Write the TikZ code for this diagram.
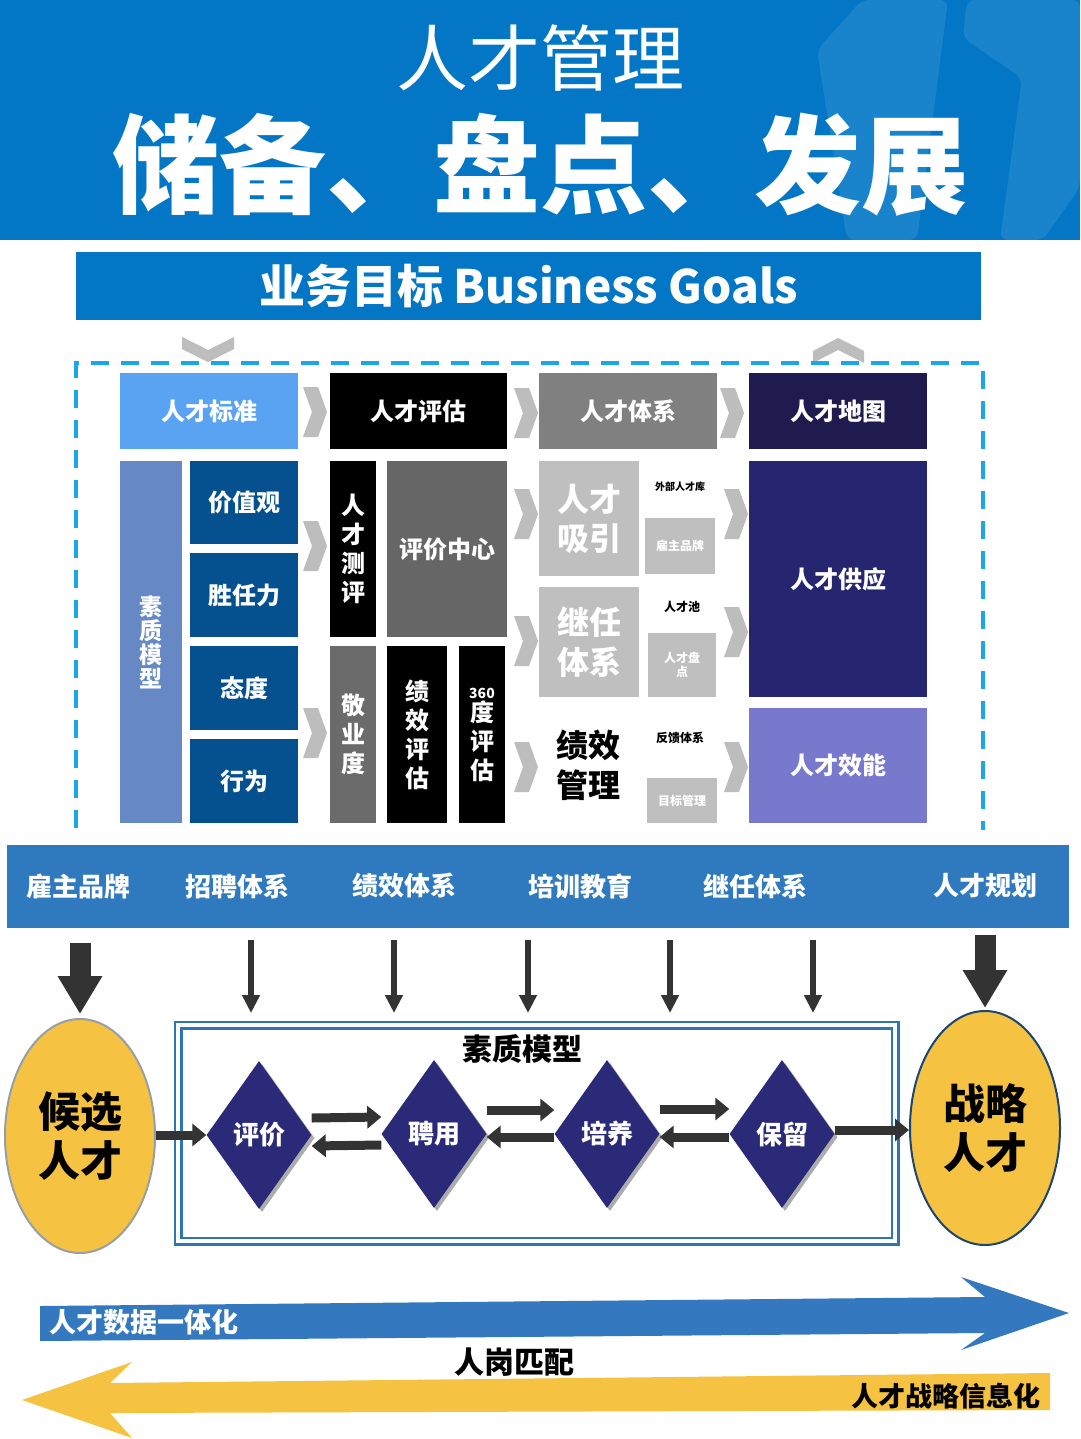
\documentclass[tikz,border=0pt]{standalone}
\usepackage{fontspec}
\setmainfont{Noto Sans CJK SC}
\usetikzlibrary{shapes.geometric,arrows.meta,shadows,calc}
\definecolor{hblue}{HTML}{0377C6}
\definecolor{lblue}{HTML}{5AA2F2}
\definecolor{dblue}{HTML}{05508F}
\definecolor{smx}{HTML}{6688C4}
\definecolor{gmid}{HTML}{666666}
\definecolor{gdark}{HTML}{6B6B6B}
\definecolor{gsys}{HTML}{808080}
\definecolor{glight}{HTML}{BFBFBF}
\definecolor{chevc}{HTML}{BDBDBD}
\definecolor{navyA}{HTML}{1F1B4F}
\definecolor{navyB}{HTML}{26256F}
\definecolor{lav}{HTML}{7878CC}
\definecolor{bandc}{HTML}{2F79BF}
\definecolor{dashc}{HTML}{1BA6E8}
\definecolor{arkc}{HTML}{333333}
\definecolor{gold}{HTML}{F5C242}
\definecolor{diac}{HTML}{2A2A78}
\definecolor{frm}{HTML}{2E75B6}
\definecolor{arrb}{HTML}{3478C0}
\tikzset{
  box/.style={inner sep=0pt, outer sep=0pt, text=white, align=center,
    font=\bfseries\fontsize{24}{29}\selectfont},
  sbox/.style={box, font=\bfseries\fontsize{12}{14}\selectfont},
  note/.style={inner sep=0pt, text=black, align=center, font=\bfseries\fontsize{12}{14}\selectfont},
  bandlbl/.style={inner sep=0pt, text=white, font=\bfseries\fontsize{26}{30}\selectfont},
  dmd/.style={diamond, fill=diac, minimum width=105pt, minimum height=148pt, inner sep=0pt,
    text=white, font=\bfseries\fontsize{26}{30}\selectfont,
    general shadow={fill=gray!65, shadow xshift=3pt, shadow yshift=-3pt}},
  ell/.style={ellipse, fill=gold, minimum width=150pt, minimum height=234pt, inner sep=0pt,
    align=center, font=\bfseries\fontsize{42}{49}\selectfont, line width=2pt},
  fat/.style={draw=arkc, line width=9pt, -{Triangle[length=14pt,width=22pt]}},
  thinarr/.style={draw=arkc, line width=6pt, -{Triangle[length=18pt,width=17pt]}},
  bigarr/.style={draw=arkc, line width=21pt, -{Triangle[length=38pt,width=42pt]}},
  chevpic/.pic={\fill[chevc] (0,0) -- (15,0) -- (24,25) -- (15,50) -- (0,50) -- (9,25) -- cycle;}
}
\begin{document}
\begin{tikzpicture}[x=1pt,y=-1pt]
\useasboundingbox (0,0) rectangle (1080,1439);
\fill[white] (0,0) rectangle (1080,1439);
% header
\fill[hblue] (0,0) rectangle (1080,240);
\fill[white, opacity=0.09, rounded corners=8pt] (862,0) -- (948,0) -- (917,240) -- (847,240) -- (817,50) -- cycle;
\fill[white, opacity=0.09, rounded corners=8pt] (967,0) -- (1080,0) -- (1080,187) -- (1043,240) -- (1000,240) -- (1022,78) -- (963,38) -- cycle;
\node[inner sep=0pt, text=white, font=\fontsize{72}{80}\selectfont] (title1) at (540,58) {人才管理};
\node[inner sep=0pt, text=white, font=\bfseries\fontsize{107}{110}\selectfont] (title2) at (540,165) {储备、盘点、发展};
% business goals
\node[fill=hblue, minimum width=905pt, minimum height=68pt, inner sep=0pt, text=white,
  font=\bfseries\fontsize{46}{50}\selectfont] (goal) at (528.5,286) {业务目标 Business Goals};
% chevrons on top of frame
\fill[chevc] (182,337) -- (208,350) -- (234,337) -- (234,349) -- (208,362) -- (182,349) -- cycle;
\fill[chevc] (813,351) -- (838,338) -- (864,351) -- (864,363) -- (838,350) -- (813,363) -- cycle;
% dashed frame
\draw[dashc, line width=3.5pt, dash pattern=on 18pt off 12pt] (76,828) -- (76,363) -- (983,363) -- (983,830);
% row 1
\node[box, fill=lblue, minimum width=178pt, minimum height=76pt] (std) at (209,411) {人才标准};
\node[box, fill=black, minimum width=177pt, minimum height=76pt] (eval) at (418.5,411) {人才评估};
\node[box, fill=gsys, minimum width=178pt, minimum height=76pt] (sys) at (628,411) {人才体系};
\node[box, fill=navyA, minimum width=178pt, minimum height=76pt] (map) at (838,411) {人才地图};
% column 1
\node[box, fill=smx, minimum width=62pt, minimum height=362pt,
  font=\bfseries\fontsize{23}{24}\selectfont] (szmx) at (151,642) {素\\质\\模\\型};
\node[box, fill=dblue, minimum width=108pt, minimum height=83pt] (jzg) at (244,502.5) {价值观};
\node[box, fill=dblue, minimum width=108pt, minimum height=84pt] (srl) at (244,595) {胜任力};
\node[box, fill=dblue, minimum width=108pt, minimum height=84pt] (td) at (244,688) {态度};
\node[box, fill=dblue, minimum width=108pt, minimum height=84pt] (xw) at (244,781) {行为};
% column 2
\node[box, fill=black, minimum width=46pt, minimum height=176pt] (rcpc) at (353,549) {人\\才\\测\\评};
\node[box, fill=gmid, minimum width=120pt, minimum height=176pt] (pjzx) at (447,549) {评价中心};
\node[box, fill=gdark, minimum width=46pt, minimum height=177pt] (jyd) at (353,734.5) {敬\\业\\度};
\node[box, fill=black, minimum width=60pt, minimum height=177pt] (jxpg) at (417,734.5) {绩\\效\\评\\估};
\node[box, fill=black, minimum width=46pt, minimum height=177pt] (d360) at (482,734.5)
  {{\fontsize{14}{16}\selectfont 360}\\[-6pt]度\\评\\估};
% column 3
\node[box, fill=glight, minimum width=100pt, minimum height=115pt,
  font=\bfseries\fontsize{32}{39}\selectfont] (rcxy) at (589,518.5) {人才\\吸引};
\node[note, font=\bfseries\fontsize{10}{12}\selectfont] (wbrck) at (680,487) {外部人才库};
\node[sbox, fill=glight, minimum width=70pt, minimum height=56pt] (gzpp) at (680,546) {雇主品牌};
\node[box, fill=glight, minimum width=100pt, minimum height=110pt,
  font=\bfseries\fontsize{32}{40}\selectfont] (jrtx) at (589,642) {继任\\体系};
\node[note] (rcc) at (682,607) {人才池};
\node[sbox, fill=glight, minimum width=68pt, minimum height=64pt] (rcpd) at (682,665) {人才盘\\点};
\node[note, font=\bfseries\fontsize{32}{40}\selectfont] (jxgl) at (588,765) {绩效\\管理};
\node[note] (fktx) at (680,738) {反馈体系};
\node[sbox, fill=glight, minimum width=70pt, minimum height=45pt] (mbgl) at (682,800.5) {目标管理};
% column 4
\node[box, fill=navyB, minimum width=178pt, minimum height=236pt] (gy) at (838,579) {人才供应};
\node[box, fill=lav, minimum width=178pt, minimum height=115pt] (xn) at (838,765.5) {人才效能};
% chevrons
\pic at (303,387) {chevpic};
\pic at (303,521) {chevpic};
\pic at (303,708) {chevpic};
\pic at (514,388) {chevpic};
\pic at (514,489) {chevpic};
\pic at (514,616) {chevpic};
\pic at (514,742) {chevpic};
\pic at (720,388) {chevpic};
\pic at (724,489) {chevpic};
\pic at (724,607) {chevpic};
\pic at (724,742) {chevpic};
% band
\node[fill=bandc, minimum width=1062pt, minimum height=83pt, inner sep=0pt] (band) at (538,886.5) {};
\node[bandlbl] (b1) at (78,886) {雇主品牌};
\node[bandlbl] (b2) at (237,886) {招聘体系};
\node[bandlbl] (b3) at (404,886) {绩效体系};
\node[bandlbl] (b4) at (580,886) {培训教育};
\node[bandlbl] (b5) at (755,886) {继任体系};
\node[bandlbl] (b6) at (985,886) {人才规划};
% ellipses
\node[ell, draw=gray!70!cyan!50!black!60] (cand) at (80,1136) {候选\\人才};
\node[ell, draw=frm!60!black] (strat) at (985,1128) {战略\\人才};
% frame
\node[draw=frm, double=white, double distance=4pt, line width=2.5pt, minimum width=717pt,
  minimum height=216pt, inner sep=0pt, outer sep=0pt] (frame) at (536.5,1133) {};
\node[inner sep=0pt, text=black, font=\bfseries\fontsize{30}{34}\selectfont] (sztitle) at (522,1049) {素质模型};
% diamonds
\node[dmd] (d1) at (259,1135) {评价};
\node[dmd] (d2) at (434,1134) {聘用};
\node[dmd] (d3) at (607,1134) {培养};
\node[dmd] (d4) at (782,1134) {保留};
% flow arrows
\draw[fat] (cand.east |- d1.west) -- (d1.west);
\draw[fat] ([yshift=17pt]d1.east) -- ([yshift=17pt]d2.west);
\draw[fat] ([yshift=-11pt]d2.west) -- ([yshift=-11pt]d1.east);
\draw[fat] ([yshift=24pt]d2.east) -- ([yshift=24pt]d3.west);
\draw[fat] ([yshift=-3pt]d3.west) -- ([yshift=-3pt]d2.east);
\draw[fat] ([yshift=25pt]d3.east) -- ([yshift=25pt]d4.west);
\draw[fat] ([yshift=-3pt]d4.west) -- ([yshift=-3pt]d3.east);
\draw[fat] ([yshift=4pt]d4.east) -- ([yshift=4pt]d4.east -| strat.west);
% vertical arrows from band
\coordinate (s1) at (80,943);
\coordinate (s6) at (985,935);
\draw[bigarr] (s1) -- ([yshift=4pt]cand.north);
\draw[bigarr] (s6) -- ([yshift=2pt]strat.north);
\foreach \x/\n in {251/2,394/3,528/4,670/5,813/6}{
  \coordinate (ts\n) at (\x,940);
  \coordinate (te\n) at (\x,1013);
  \draw[thinarr] (ts\n) -- (te\n);
}
% bottom arrows
\fill[arrb] (40,1306) -- (985,1297) -- (961,1277) -- (1069,1313) -- (961,1350) -- (985,1333) -- (40,1341) -- cycle;
\fill[gold] (1050,1373) -- (1050,1410) -- (110,1413) -- (132,1438) -- (22,1400) -- (132,1362) -- (110,1383) -- cycle;
\node[inner sep=0pt, text=white, font=\bfseries\fontsize{27}{30}\selectfont] (sjyth) at (144,1322) {人才数据一体化};
\node[inner sep=0pt, text=black, font=\bfseries\fontsize{30}{34}\selectfont] (rgpp) at (514,1362) {人岗匹配};
\node[inner sep=0pt, text=black, anchor=east, font=\bfseries\fontsize{27}{30}\selectfont] (zlxxh) at (1041,1396) {人才战略信息化};
\end{tikzpicture}
\end{document}
